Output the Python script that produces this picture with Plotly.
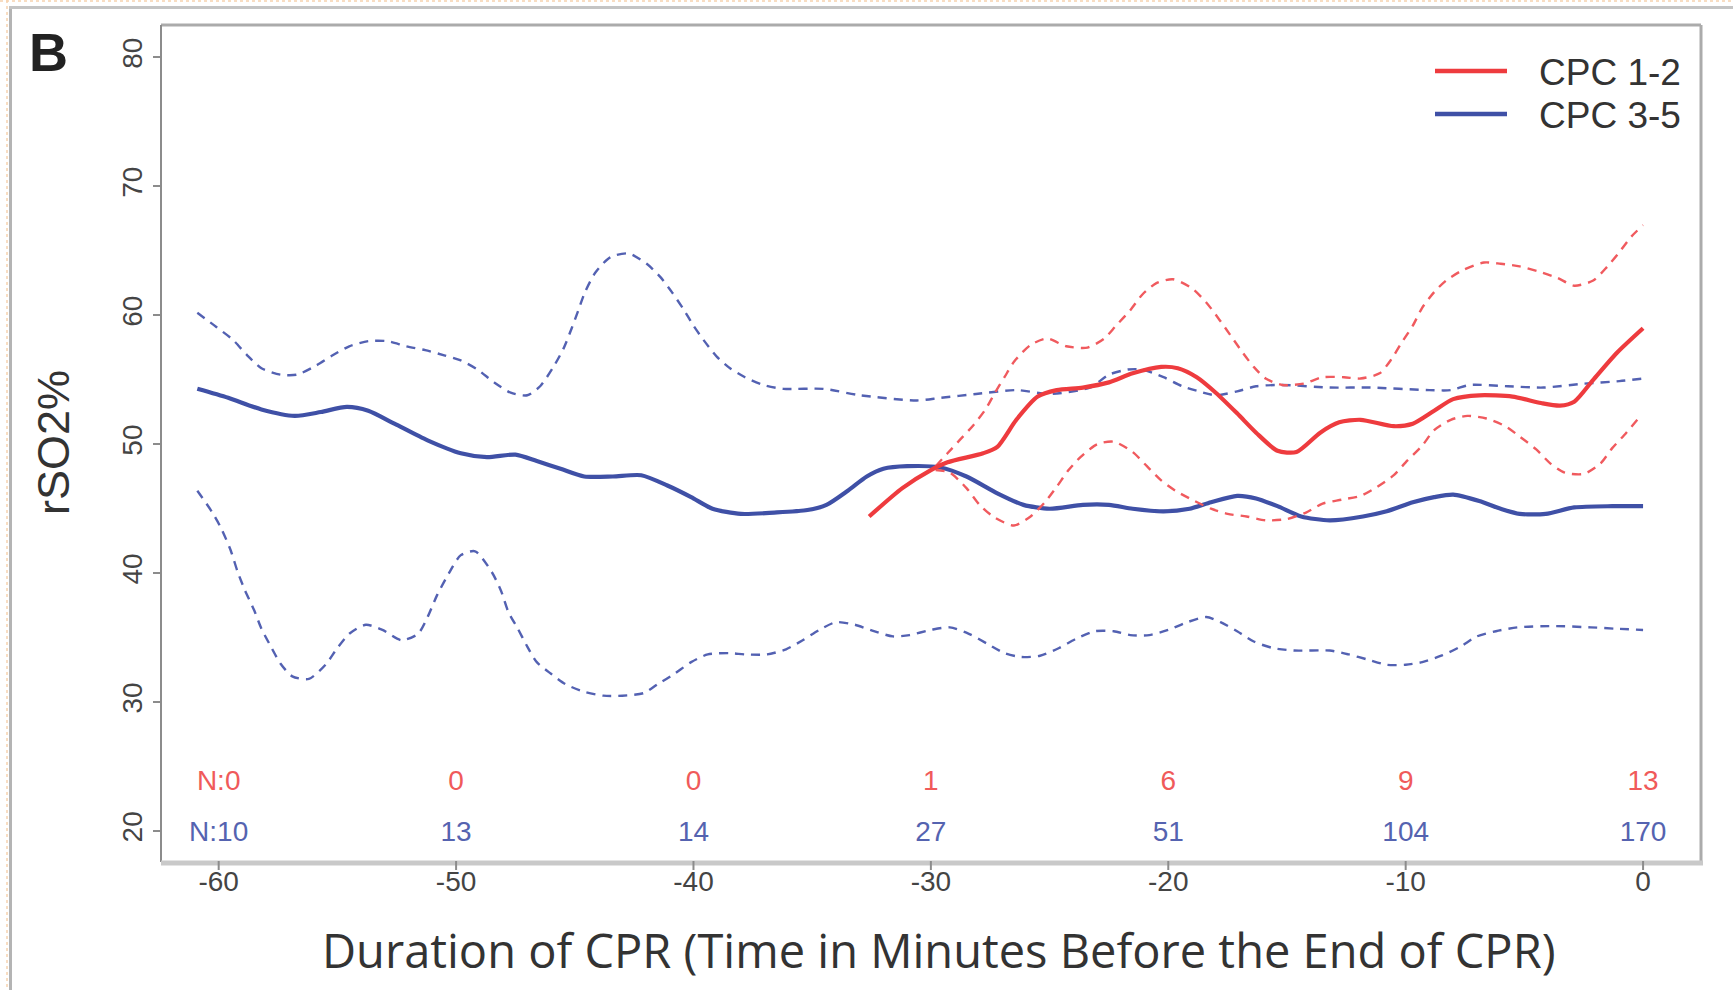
import plotly.graph_objects as go

# ---------------- data ----------------
x_ticks = [-60, -50, -40, -30, -20, -10, 0]
y_ticks = [20, 30, 40, 50, 60, 70, 80]

n_good = ["N:0", "0", "0", "1", "6", "9", "13"]        # CPC 1-2
n_poor = ["N:10", "13", "14", "27", "51", "104", "170"]  # CPC 3-5

# CPC 3-5 (blue) mean
poor_mean_x = [-60.9, -59.6, -58.2, -56.8, -55.7, -54.6, -53.7, -52.6, -51.2, -49.8, -48.7, -47.5,
               -46.6, -45.6, -44.6, -43.4, -42.2, -41.1, -40.1, -39.2, -38.0, -36.6, -35.2, -34.4,
               -33.5, -32.7, -32.0, -31.0, -29.6, -28.5, -27.2, -26.1, -25.0, -23.6, -22.5, -21.5,
               -20.2, -19.1, -18.2, -17.1, -16.3, -15.4, -14.4, -13.2, -11.8, -10.8, -9.7, -8.8,
               -8.0, -6.9, -6.0, -5.2, -4.1, -2.9, -1.3, 0.0]
poor_mean_y = [54.3, 53.6, 52.7, 52.2, 52.5, 52.9, 52.6, 51.6, 50.3, 49.3, 49.0, 49.2,
               48.7, 48.1, 47.5, 47.5, 47.6, 46.8, 45.9, 45.0, 44.6, 44.7, 44.9, 45.3,
               46.4, 47.5, 48.1, 48.3, 48.2, 47.5, 46.2, 45.3, 45.0, 45.3, 45.3, 45.0,
               44.8, 45.0, 45.5, 46.0, 45.8, 45.2, 44.4, 44.1, 44.4, 44.8, 45.5, 45.9,
               46.1, 45.6, 45.0, 44.6, 44.6, 45.1, 45.2, 45.2]

# CPC 3-5 upper band
poor_hi_x = [-60.9, -60.1, -59.4, -58.8, -58.2, -57.4, -56.7, -55.9, -55.2, -54.5, -53.7, -52.9,
             -52.1, -51.3, -50.5, -49.8, -49.1, -48.4, -47.7, -47.0, -46.46, -45.9, -45.48, -45.13,
             -44.85, -44.57, -44.14, -43.51, -42.74, -41.97, -41.41, -40.91, -40.43, -40.0, -39.58,
             -39.02, -38.46, -37.83, -37.06, -36.21, -34.53, -32.98, -30.59, -29.6, -28.1, -26.4,
             -25.0, -23.3, -22.5, -21.7, -21.1, -20.2, -19.4, -18.7, -18.0, -17.1, -16.3, -15.2,
             -13.2, -11.5, -9.0, -8.1, -7.3, -5.7, -4.2, -2.5, -1.0, 0.0]
poor_hi_y = [60.2, 59.1, 58.1, 56.9, 55.9, 55.4, 55.4, 56.1, 56.9, 57.6, 58.0, 58.0,
             57.6, 57.3, 56.9, 56.5, 55.8, 54.8, 54.0, 53.8, 54.5, 56.0, 57.4, 59.0,
             60.4, 61.8, 63.3, 64.5, 64.8, 64.0, 63.0, 61.8, 60.5, 59.2, 58.1,
             56.8, 55.9, 55.2, 54.6, 54.3, 54.3, 53.8, 53.4, 53.6, 53.9, 54.2,
             53.9, 54.4, 55.4, 55.8, 55.8, 55.2, 54.5, 54.1, 53.8, 54.1, 54.5, 54.6,
             54.4, 54.4, 54.2, 54.2, 54.6, 54.5, 54.4, 54.7, 54.9, 55.1]

# CPC 3-5 lower band
poor_lo_x = [-60.9, -60.3, -59.9, -59.5, -59.2, -58.9, -58.5, -58.2, -57.8, -57.4, -56.9, -56.2,
             -55.5, -55.0, -54.5, -53.8, -53.1, -52.3, -51.6, -51.2, -50.8, -50.3, -49.8, -49.2,
             -48.5, -48.1, -47.8, -47.4, -47.0, -46.6, -46.0, -45.4, -44.6, -43.8, -43.0, -42.1,
             -41.5, -40.8, -40.1, -39.4, -38.5, -37.8, -36.9, -36.1, -35.4, -34.7, -34.0, -33.2,
             -32.4, -31.6, -30.9, -30.0, -29.2, -28.4, -27.6, -26.9, -26.2, -25.4, -24.6, -23.9,
             -23.1, -22.3, -21.6, -20.8, -20.0, -19.2, -18.4, -17.8, -17.1, -16.4, -15.6, -14.7,
             -13.2, -12.4, -11.6, -10.8, -10.0, -9.3, -8.5, -7.7, -7.0, -6.2, -5.3, -3.8,
             -2.2, -1.2, 0.0]
poor_lo_y = [46.4, 44.8, 43.5, 41.8, 40.1, 38.7, 37.1, 35.7, 34.3, 33.0, 32.0, 31.8,
             32.9, 34.2, 35.3, 36.0, 35.6, 34.8, 35.3, 36.6, 38.3, 40.0, 41.4, 41.7,
             40.1, 38.6, 37.0, 35.7, 34.3, 33.1, 32.2, 31.4, 30.8, 30.5, 30.5, 30.7,
             31.4, 32.2, 33.1, 33.7, 33.8, 33.7, 33.7, 34.1, 34.8, 35.6, 36.2, 36.0,
             35.5, 35.1, 35.2, 35.6, 35.8, 35.3, 34.5, 33.8, 33.5, 33.6, 34.2, 34.9,
             35.5, 35.5, 35.2, 35.2, 35.6, 36.2, 36.6, 36.2, 35.5, 34.7, 34.2, 34.0,
             34.0, 33.7, 33.3, 32.9, 32.9, 33.1, 33.6, 34.3, 35.1, 35.5, 35.8, 35.9,
             35.8, 35.7, 35.6]

# CPC 1-2 (red) mean
good_mean_x = [-32.6, -31.2, -30.0, -29.3, -27.8, -27.2, -26.4, -25.5, -24.7, -23.6, -22.5, -21.5,
               -20.3, -19.6, -18.8, -18.0, -17.1, -16.3, -15.4, -14.6, -13.6, -12.8, -11.9, -10.5,
               -9.7, -8.8, -8.0, -6.9, -5.5, -4.3, -3.5, -2.9, -2.1, -1.1, 0.0]
good_mean_y = [44.4, 46.6, 48.0, 48.6, 49.3, 49.8, 51.9, 53.7, 54.2, 54.4, 54.8, 55.5,
               56.0, 55.9, 55.2, 54.0, 52.4, 50.9, 49.5, 49.4, 50.9, 51.7, 51.9, 51.4,
               51.6, 52.6, 53.5, 53.8, 53.7, 53.2, 53.0, 53.3, 55.0, 57.1, 59.0]

# CPC 1-2 upper band
good_hi_x = [-29.8, -29.3, -28.8, -28.2, -27.7, -27.3, -26.9, -26.5, -25.8, -25.1, -24.3, -23.4,
             -22.7, -22.2, -21.6, -21.1, -20.5, -19.8, -19.0, -18.4, -17.9, -17.4, -16.9, -16.4,
             -15.9, -15.2, -14.3, -13.5, -12.6, -11.9, -11.1, -10.6, -10.2, -9.7, -9.3, -8.8,
             -8.3, -7.6, -6.7, -6.0, -5.2, -4.4, -3.6, -2.9, -2.1, -1.5, -1.0, -0.5, 0.0]
good_hi_y = [48.3, 49.3, 50.3, 51.5, 52.7, 54.0, 55.2, 56.4, 57.7, 58.2, 57.6, 57.5,
             58.2, 59.2, 60.4, 61.6, 62.5, 62.8, 62.1, 61.0, 59.8, 58.5, 57.2, 56.0,
             55.1, 54.6, 54.7, 55.2, 55.2, 55.1, 55.5, 56.6, 57.8, 59.2, 60.6, 61.8,
             62.7, 63.5, 64.1, 64.0, 63.8, 63.4, 62.9, 62.3, 62.7, 63.8, 64.9, 66.1, 67.0]

# CPC 1-2 lower band
good_lo_x = [-29.8, -29.2, -28.5, -27.9, -27.3, -26.5, -25.8, -25.2, -24.7, -24.2, -23.7, -23.0,
             -22.3, -21.5, -20.9, -20.3, -19.7, -19.1, -18.2, -17.5, -16.7, -15.9, -15.0, -14.2,
             -13.5, -12.7, -11.9, -11.2, -10.5, -10.0, -9.3, -8.8, -8.1, -7.4, -6.6, -5.8,
             -5.2, -4.5, -3.9, -3.3, -2.5, -1.8, -1.3, -0.8, -0.2]
good_lo_y = [48.0, 47.8, 46.6, 45.2, 44.3, 43.7, 44.4, 45.5, 46.7, 48.0, 49.0, 50.0,
             50.2, 49.4, 48.3, 47.2, 46.4, 45.8, 45.0, 44.6, 44.4, 44.1, 44.2, 44.7,
             45.4, 45.7, 46.0, 46.7, 47.6, 48.6, 49.9, 51.1, 51.9, 52.2, 52.0, 51.4,
             50.6, 49.6, 48.5, 47.8, 47.7, 48.5, 49.7, 50.7, 52.0]

labels = ["CPC 1-2", "CPC 3-5"]

# ---------------- styling ----------------
RED = "#EE3B3E"
BLUE = "#3F50A6"
RED_DASH = "#F05A5E"
BLUE_DASH = "#5361B2"
RED_TXT = "#F05A5A"
BLUE_TXT = "#5563B0"

W, H = 1733, 990
L, R, T, B = 161, 32, 25, 128
PW, PH = W - L - R, H - T - B


def px(xp):
    return (xp - L) / PW


def py(yp):
    return (H - B - yp) / PH


fig = go.Figure()


def add_line(x, y, color, width, dash):
    fig.add_trace(go.Scatter(
        x=x, y=y, mode="lines",
        line=dict(color=color, width=width, dash=dash, shape="spline", smoothing=0.7),
        showlegend=False, hoverinfo="skip"))


DASH = "9px,7px"
add_line(poor_hi_x, poor_hi_y, BLUE_DASH, 2.4, DASH)
add_line(poor_lo_x, poor_lo_y, BLUE_DASH, 2.4, DASH)
add_line(poor_mean_x, poor_mean_y, BLUE, 4.2, "solid")
add_line(good_hi_x, good_hi_y, RED_DASH, 2.4, DASH)
add_line(good_lo_x, good_lo_y, RED_DASH, 2.4, DASH)
add_line(good_mean_x, good_mean_y, RED, 4.2, "solid")

# N at risk rows
fig.add_trace(go.Scatter(x=x_ticks, y=[23.75] * len(x_ticks), mode="text", text=n_good,
                         textfont=dict(color=RED_TXT, size=28, family="Liberation Sans"),
                         showlegend=False, hoverinfo="skip"))
fig.add_trace(go.Scatter(x=x_ticks, y=[19.75] * len(x_ticks), mode="text", text=n_poor,
                         textfont=dict(color=BLUE_TXT, size=28, family="Liberation Sans"),
                         showlegend=False, hoverinfo="skip"))

shapes = []
# outer panel frame and dotted page edge
shapes.append(dict(type="line", xref="paper", yref="paper", x0=px(10.5), x1=px(10.5), y0=py(6), y1=py(H + 5),
                   line=dict(color="#B4B4B4", width=3)))
shapes.append(dict(type="line", xref="paper", yref="paper", x0=px(9), x1=px(W + 5), y0=py(7.5), y1=py(7.5),
                   line=dict(color="#C4C4C4", width=3)))
shapes.append(dict(type="line", xref="paper", yref="paper", x0=px(0), x1=px(W), y0=py(1), y1=py(1),
                   line=dict(color="#F6D2AE", width=1.5, dash="dot")))
shapes.append(dict(type="line", xref="paper", yref="paper", x0=px(7), x1=px(7), y0=py(0), y1=py(H),
                   line=dict(color="#F6D2AE", width=1.5, dash="dot")))
# plot frame
shapes.append(dict(type="line", xref="paper", yref="paper", x0=0, x1=1, y0=1, y1=1,
                   line=dict(color="#ABABAB", width=3)))
shapes.append(dict(type="line", xref="paper", yref="paper", x0=1, x1=1, y0=0, y1=1,
                   line=dict(color="#ABABAB", width=3)))
shapes.append(dict(type="line", xref="paper", yref="paper", x0=0, x1=0, y0=0, y1=1,
                   line=dict(color="#8C8C8C", width=2)))
shapes.append(dict(type="line", xref="paper", yref="paper", x0=0, x1=px(W - R + 2), y0=py(H - B + 1), y1=py(H - B + 1),
                   line=dict(color="#C9C9C9", width=5)))
# x tick marks (below the frame)
for v in x_ticks:
    shapes.append(dict(type="line", xref="x", yref="paper", x0=v, x1=v, y0=py(H - B - 1), y1=py(H - B + 8),
                       line=dict(color="#8C8C8C", width=2)))
# legend keys
shapes.append(dict(type="line", xref="paper", yref="paper", x0=px(1435), x1=px(1507), y0=py(71), y1=py(71),
                   line=dict(color=RED, width=4.5)))
shapes.append(dict(type="line", xref="paper", yref="paper", x0=px(1435), x1=px(1507), y0=py(114), y1=py(114),
                   line=dict(color=BLUE, width=4.5)))

annotations = [
    dict(text=labels[0], xref="paper", yref="paper", x=px(1537), y=py(72), xanchor="left", yanchor="middle",
         showarrow=False, font=dict(family="Liberation Sans", size=37, color="#333333")),
    dict(text=labels[1], xref="paper", yref="paper", x=px(1537), y=py(115), xanchor="left", yanchor="middle",
         showarrow=False, font=dict(family="Liberation Sans", size=37, color="#333333")),
    dict(text="<b>B</b>", xref="paper", yref="paper", x=px(48), y=py(52), xanchor="center", yanchor="middle",
         showarrow=False, font=dict(family="Liberation Sans", size=54, color="#222222")),
    dict(text="rSO2%", xref="paper", yref="paper", x=px(53), y=py(443), xanchor="center", yanchor="middle",
         textangle=-90, showarrow=False, font=dict(family="Liberation Sans", size=45, color="#333333")),
    dict(text="Duration of CPR (Time in Minutes Before the End of CPR)", xref="paper", yref="paper",
         x=px(939), y=py(950), xanchor="center", yanchor="middle", showarrow=False,
         font=dict(family="Open Sans", size=47, color="#333333")),
]

fig.update_layout(
    width=W, height=H,
    margin=dict(l=L, r=R, t=T, b=B, pad=0),
    paper_bgcolor="white", plot_bgcolor="white",
    shapes=shapes, annotations=annotations,
    showlegend=False,
    xaxis=dict(range=[-62.43, 2.44], tickvals=x_ticks, ticktext=[str(v) for v in x_ticks],
               ticks="", showgrid=False, zeroline=False, showline=False,
               tickfont=dict(family="Liberation Sans", size=28, color="#444444")),
    yaxis=dict(range=[17.6, 82.52], tickvals=y_ticks, ticktext=[str(v) for v in y_ticks],
               ticks="outside", ticklen=7, tickwidth=2, tickcolor="#8C8C8C", tickangle=-90,
               showgrid=False, zeroline=False, showline=False,
               tickfont=dict(family="Liberation Sans", size=28, color="#444444")),
)

fig.write_html("out.html", config={"displayModeBar": False},
               post_script="document.body.style.margin='0';document.body.style.overflow='hidden';")
